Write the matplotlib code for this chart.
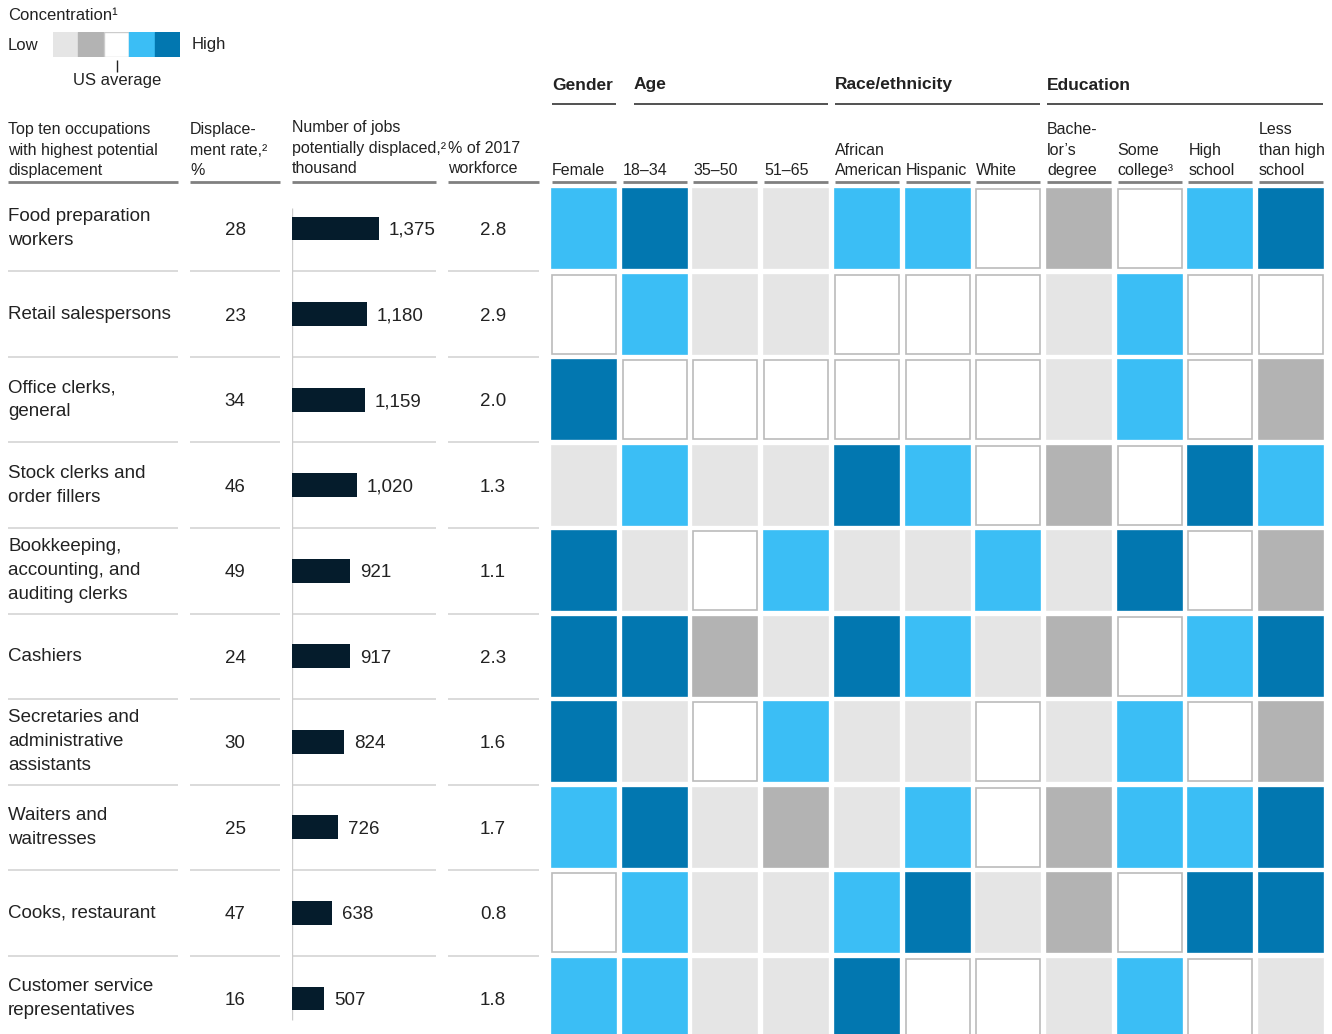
import numpy as np
import matplotlib
matplotlib.use("Agg")
from matplotlib import pyplot as plt

occupations = ["Food preparation\nworkers", "Retail salespersons", "Office clerks,\ngeneral",
               "Stock clerks and\norder fillers", "Bookkeeping,\naccounting, and\nauditing clerks",
               "Cashiers", "Secretaries and\nadministrative\nassistants", "Waiters and\nwaitresses",
               "Cooks, restaurant", "Customer service\nrepresentatives"]
displacement_rate = [28, 23, 34, 46, 49, 24, 30, 25, 47, 16]
jobs_displaced = [1375, 1180, 1159, 1020, 921, 917, 824, 726, 638, 507]
pct_workforce = [2.8, 2.9, 2.0, 1.3, 1.1, 2.3, 1.6, 1.7, 0.8, 1.8]

# group name, first column, number of columns
groups = [("Gender", 0, 1), ("Age", 1, 3), ("Race/ethnicity", 4, 3), ("Education", 7, 4)]
columns = ["Female", "18–34", "35–50", "51–65", "African\nAmerican", "Hispanic", "White",
           "Bache-\nlor’s\ndegree", "Some\ncollege³", "High\nschool", "Less\nthan high\nschool"]

# concentration level: 0 = low ... 2 = US average ... 4 = high
concentration = [
    [3, 4, 0, 0, 3, 3, 2, 1, 2, 3, 4],
    [2, 3, 0, 0, 2, 2, 2, 0, 3, 2, 2],
    [4, 2, 2, 2, 2, 2, 2, 0, 3, 2, 1],
    [0, 3, 0, 0, 4, 3, 2, 1, 2, 4, 3],
    [4, 0, 2, 3, 0, 0, 3, 0, 4, 2, 1],
    [4, 4, 1, 0, 4, 3, 0, 1, 2, 3, 4],
    [4, 0, 2, 3, 0, 0, 2, 0, 3, 2, 1],
    [3, 4, 0, 1, 0, 3, 2, 1, 3, 3, 4],
    [2, 3, 0, 0, 3, 4, 0, 1, 2, 4, 4],
    [3, 3, 0, 0, 4, 2, 2, 0, 3, 2, 0],
]
legend_levels = [0, 1, 2, 3, 4]

level_colors = ["#E5E5E5", "#B3B3B3", "#FFFFFF", "#3BBEF5", "#0277B0"]
level_edges = ["#E5E5E5", "#B3B3B3", "#BBBBBB", "#3BBEF5", "#0277B0"]
BAR_COLOR = "#051C2C"
TXT = "#222222"

plt.rcParams['font.family'] = ['Liberation Sans', 'DejaVu Sans']

W, H = 1332, 1034
fig = plt.figure(figsize=(W / 100, H / 100), dpi=100)
ax = fig.add_axes([0, 0, 1, 1])
ax.set_xlim(0, W)
ax.set_ylim(H, 0)
ax.axis('off')


def px_axes(x0, y0, x1, y1):
    return fig.add_axes([x0 / W, 1 - y1 / H, (x1 - x0) / W, (y1 - y0) / H])


n = len(occupations)
TOP, PITCH = 185.7, 85.56
centers = [TOP + (i + 0.5) * PITCH for i in range(n)]

# legend
ax.text(8, 16, "Concentration¹", fontsize=12, color=TXT, va='center')
ax.text(8, 45, "Low", fontsize=12, color=TXT, va='center')
ax.text(192, 45, "High", fontsize=12, color=TXT, va='center')
ax_leg = px_axes(53, 32, 180, 57)
ax_leg.set_xlim(0, len(legend_levels))
ax_leg.set_ylim(0, 1)
ax_leg.bar(np.arange(len(legend_levels)) + 0.5, 1, width=1,
           color=[level_colors[l] for l in legend_levels],
           edgecolor=[level_colors[l] if l != 2 else "#CCCCCC" for l in legend_levels], linewidth=1)
ax_leg.axis('off')
ax.vlines(117, 60, 72, color=TXT, lw=1)
ax.text(117, 81, "US average", fontsize=12, color=TXT, ha='center', va='center')

# left table headers
hdr = dict(fontsize=11.5, color=TXT, va='bottom', ha='left', linespacing=1.45)
ax.text(8, 178, "Top ten occupations\nwith highest potential\ndisplacement", **hdr)
ax.text(190, 178, "Displace-\nment rate,²\n%", **hdr)
ax.text(292, 176, "Number of jobs\npotentially displaced,²\nthousand", **hdr)
ax.text(448, 176, "% of 2017\nworkforce", **hdr)
left_cols = [(8, 178), (190, 280), (292, 436), (448, 539)]
for x0, x1 in left_cols:
    ax.hlines(182, x0, x1, color="#808080", lw=2)
    for i in range(1, n):
        ax.hlines(TOP + i * PITCH, x0, x1, color="#D4D4D4", lw=1.2)

# heatmap headers
COL0, CPITCH, CW = 552, 70.7, 64
for j, name in enumerate(columns):
    x = COL0 + j * CPITCH
    ax.text(x, 178, name, **hdr)
    ax.hlines(182, x, x + CW, color="#808080", lw=2)
for name, start, count in groups:
    x0 = COL0 + start * CPITCH + (11 if name == "Age" else 0)
    x1 = COL0 + (start + count - 1) * CPITCH + CW
    ax.text(x0, 85, name, fontsize=12.5, fontweight='bold', color=TXT, va='center')
    ax.hlines(104, x0, x1, color="#333333", lw=1.2)

# row labels and numbers
for i in range(n):
    ax.text(8, centers[i], occupations[i], fontsize=13.5, color=TXT, va='center', linespacing=1.55)
    ax.text(235, centers[i], str(displacement_rate[i]), fontsize=13.5, color=TXT,
            va='center_baseline', ha='center')
    ax.text(493, centers[i], f"{pct_workforce[i]:.1f}", fontsize=13.5, color=TXT,
            va='center_baseline', ha='center')

# bars
ax_bar = px_axes(292, TOP, 440, TOP + n * PITCH)
ax_bar.set_xlim(0, 148 / 0.0633)
ax_bar.set_ylim(n, 0)
ax_bar.vlines(0, 0.26, 9.75, color="#CCCCCC", lw=1, zorder=0)
bars = ax_bar.barh(np.arange(n) + 0.5, jobs_displaced, height=0.28, color=BAR_COLOR, zorder=2)
labels = ax_bar.bar_label(bars, labels=[f"{v:,}" for v in jobs_displaced], padding=7, fontsize=13.5, color=TXT)
for t in labels:
    t.set_va('center_baseline')
ax_bar.axis('off')

# heatmap
ax_h = px_axes(COL0 - (CPITCH - CW) / 2, TOP, COL0 - (CPITCH - CW) / 2 + len(columns) * CPITCH, TOP + n * PITCH)
ax_h.set_xlim(0, len(columns))
ax_h.set_ylim(n, 0)
cell_h = 79 / PITCH
cell_w = CW / CPITCH
for i, row in enumerate(concentration):
    ax_h.bar(np.arange(len(row)) + 0.5, cell_h, bottom=i + 0.5 - cell_h / 2, width=cell_w,
             color=[level_colors[l] for l in row], edgecolor=[level_edges[l] for l in row], linewidth=1.2)
ax_h.axis('off')

fig.savefig("out.png", dpi=100)
